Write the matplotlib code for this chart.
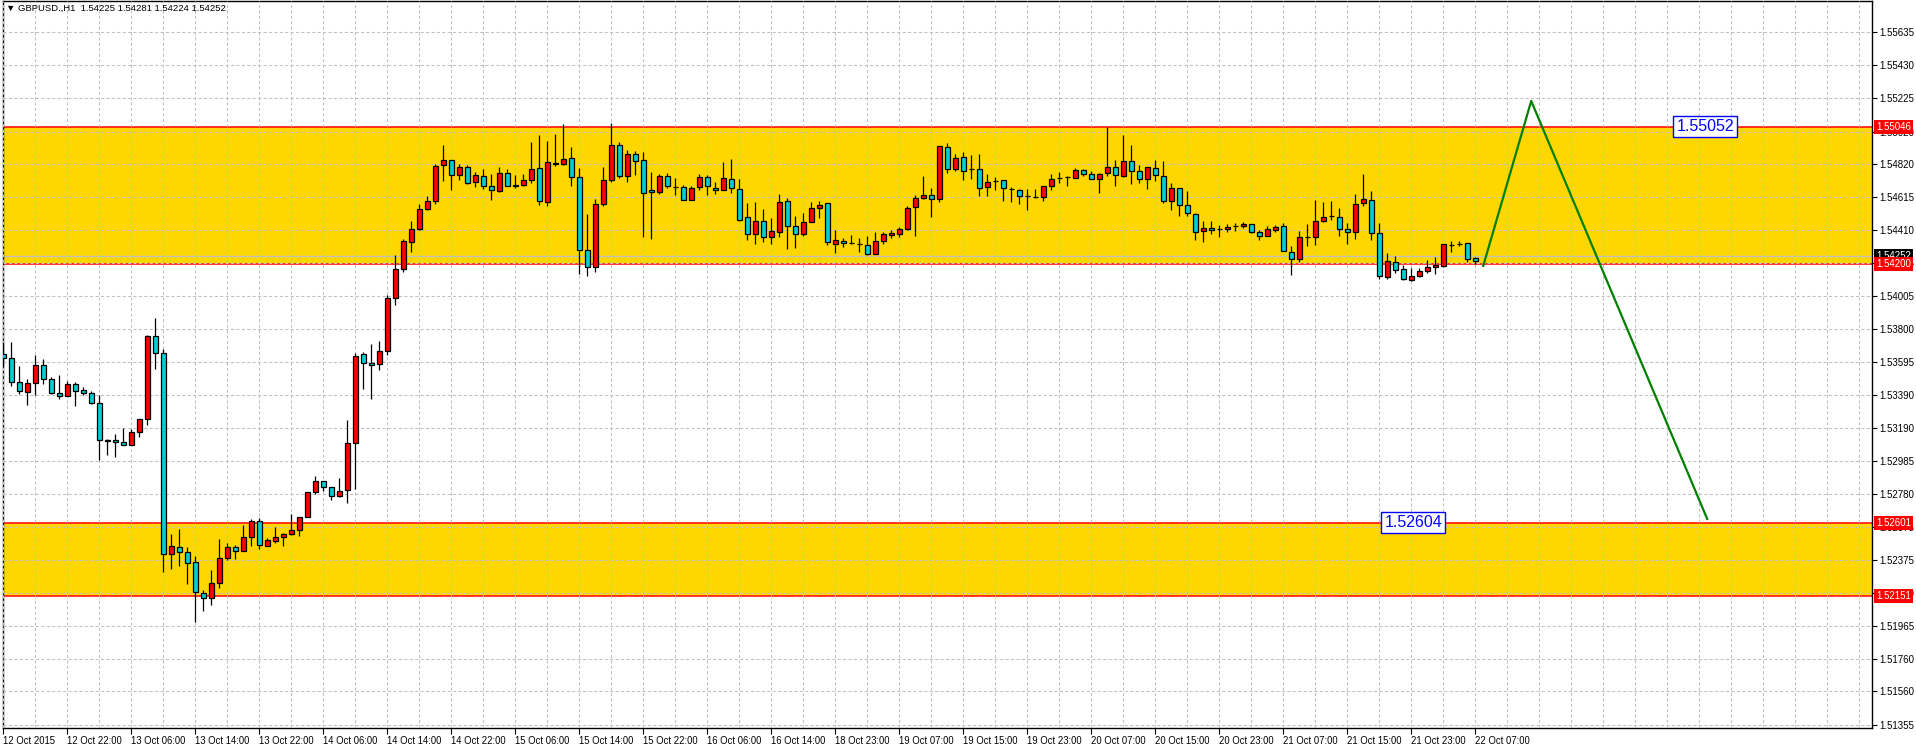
import matplotlib
matplotlib.use("Agg")
import matplotlib.pyplot as plt
import matplotlib.transforms as mtransforms
from matplotlib.ticker import MultipleLocator
from matplotlib import font_manager

# ---------------- data (GBPUSD H1) ----------------
opens = [1.53645,1.53621,1.53472,1.53410,1.53466,1.53577,1.53491,1.53404,1.53386,1.53460,
         1.53425,1.53404,1.53342,1.53112,1.53114,1.53101,1.53081,1.53163,1.53244,1.53759,
         1.53651,1.52409,1.52452,1.52422,1.52360,1.52168,1.52137,1.52230,1.52385,1.52452,
         1.52426,1.52514,1.52613,1.52457,1.52488,1.52512,1.52531,1.52558,1.52636,1.52792,
         1.52860,1.52823,1.52768,1.52805,1.53095,1.53645,1.53592,1.53583,1.53664,1.53990,
         1.54170,1.54338,1.54418,1.54544,1.54593,1.54814,1.54847,1.54754,1.54804,1.54711,
         1.54748,1.54686,1.54653,1.54766,1.54688,1.54692,1.54723,1.54797,1.54587,1.54824,
         1.54820,1.54859,1.54742,1.54291,1.54180,1.54575,1.54723,1.54940,1.54748,1.54884,
         1.54847,1.54661,1.54649,1.54748,1.54678,1.54680,1.54600,1.54680,1.54742,1.54674,
         1.54661,1.54729,1.54668,1.54495,1.54390,1.54470,1.54371,1.54402,1.54593,1.54439,
         1.54390,1.54464,1.54550,1.54581,1.54328,1.54346,1.54332,1.54326,1.54322,1.54266,
         1.54346,1.54383,1.54390,1.54420,1.54556,1.54612,1.54631,1.54606,1.54927,1.54791,
         1.54865,1.54789,1.54791,1.54680,1.54713,1.54723,1.54666,1.54661,1.54624,1.54616,
         1.54618,1.54686,1.54731,1.54738,1.54736,1.54785,1.54760,1.54729,1.54766,1.54804,
         1.54748,1.54841,1.54779,1.54729,1.54797,1.54748,1.54593,1.54674,1.54569,1.54513,
         1.54408,1.54427,1.54420,1.54420,1.54437,1.54439,1.54451,1.54402,1.54377,1.54414,
         1.54439,1.54278,1.54235,1.54371,1.54371,1.54470,1.54497,1.54495,1.54420,1.54402,
         1.54581,1.54600,1.54396,1.54124,1.54216,1.54173,1.54105,1.54130,1.54161,1.54186,
         1.54192,1.54319,1.54324,1.54334,1.54241]
highs = [1.53719,1.53719,1.53573,1.53493,1.53641,1.53614,1.53503,1.53518,1.53480,1.53472,
         1.53441,1.53419,1.53390,1.53120,1.53151,1.53190,1.53184,1.53246,1.53765,1.53870,
         1.53676,1.52535,1.52566,1.52455,1.52395,1.52189,1.52312,1.52504,1.52477,1.52463,
         1.52591,1.52628,1.52632,1.52506,1.52576,1.52539,1.52659,1.52638,1.52792,1.52893,
         1.52862,1.52823,1.52881,1.53239,1.53654,1.53656,1.53709,1.53728,1.54010,1.54257,
         1.54359,1.54466,1.54571,1.54620,1.54822,1.54935,1.54847,1.54822,1.54816,1.54769,
         1.54791,1.54756,1.54799,1.54791,1.54750,1.54760,1.54954,1.54997,1.54960,1.55003,
         1.55065,1.54923,1.54793,1.54509,1.54606,1.54799,1.55075,1.54954,1.54909,1.54898,
         1.54892,1.54769,1.54760,1.54766,1.54736,1.54692,1.54682,1.54760,1.54754,1.54711,
         1.54830,1.54849,1.54729,1.54577,1.54583,1.54544,1.54488,1.54637,1.54612,1.54497,
         1.54519,1.54583,1.54593,1.54581,1.54414,1.54365,1.54383,1.54365,1.54377,1.54402,
         1.54400,1.54414,1.54433,1.54563,1.54631,1.54748,1.54674,1.54933,1.54952,1.54884,
         1.54892,1.54878,1.54884,1.54760,1.54742,1.54723,1.54680,1.54668,1.54668,1.54668,
         1.54686,1.54760,1.54773,1.54748,1.54795,1.54791,1.54779,1.54766,1.55051,1.54847,
         1.54997,1.54935,1.54816,1.54804,1.54847,1.54841,1.54705,1.54674,1.54655,1.54519,
         1.54470,1.54470,1.54445,1.54451,1.54458,1.54464,1.54451,1.54414,1.54439,1.54445,
         1.54458,1.54315,1.54408,1.54451,1.54600,1.54587,1.54593,1.54550,1.54458,1.54637,
         1.54760,1.54655,1.54458,1.54272,1.54254,1.54198,1.54179,1.54179,1.54229,1.54247,
         1.54328,1.54346,1.54346,1.54334,1.54247]
lows = [1.53569,1.53445,1.53396,1.53328,1.53390,1.53458,1.53398,1.53365,1.53386,1.53322,
        1.53390,1.53334,1.52992,1.53019,1.53007,1.53081,1.53081,1.53130,1.53204,1.53551,
        1.52296,1.52314,1.52333,1.52222,1.51987,1.52059,1.52094,1.52199,1.52370,1.52376,
        1.52426,1.52461,1.52438,1.52457,1.52475,1.52461,1.52525,1.52518,1.52636,1.52780,
        1.52797,1.52741,1.52759,1.52722,1.52813,1.53431,1.53365,1.53544,1.53640,1.53950,
        1.54150,1.54276,1.54410,1.54534,1.54573,1.54715,1.54657,1.54721,1.54696,1.54676,
        1.54666,1.54598,1.54647,1.54686,1.54672,1.54682,1.54703,1.54567,1.54560,1.54808,
        1.54812,1.54684,1.54140,1.54130,1.54150,1.54560,1.54709,1.54734,1.54709,1.54750,
        1.54369,1.54357,1.54635,1.54672,1.54628,1.54600,1.54600,1.54659,1.54628,1.54635,
        1.54659,1.54641,1.54468,1.54350,1.54326,1.54338,1.54326,1.54369,1.54295,1.54301,
        1.54377,1.54464,1.54486,1.54319,1.54270,1.54307,1.54326,1.54276,1.54260,1.54266,
        1.54328,1.54363,1.54369,1.54414,1.54375,1.54604,1.54493,1.54585,1.54764,1.54777,
        1.54721,1.54727,1.54622,1.54622,1.54659,1.54591,1.54585,1.54573,1.54536,1.54612,
        1.54591,1.54661,1.54705,1.54684,1.54736,1.54746,1.54729,1.54641,1.54748,1.54686,
        1.54742,1.54698,1.54705,1.54668,1.54717,1.54581,1.54536,1.54499,1.54499,1.54350,
        1.54338,1.54390,1.54369,1.54402,1.54408,1.54427,1.54396,1.54352,1.54377,1.54402,
        1.54284,1.54134,1.54216,1.54315,1.54319,1.54462,1.54476,1.54377,1.54328,1.54359,
        1.54563,1.54350,1.54111,1.54111,1.54148,1.54105,1.54099,1.54122,1.54148,1.54140,
        1.54186,1.54278,1.54315,1.54216,1.54204]
closes = [1.53621,1.53472,1.53417,1.53466,1.53577,1.53491,1.53404,1.53386,1.53460,1.53417,
          1.53404,1.53342,1.53114,1.53110,1.53101,1.53083,1.53163,1.53246,1.53759,1.53651,
          1.52409,1.52459,1.52422,1.52354,1.52174,1.52137,1.52230,1.52385,1.52452,1.52426,
          1.52514,1.52613,1.52465,1.52496,1.52514,1.52533,1.52558,1.52638,1.52792,1.52860,
          1.52823,1.52768,1.52799,1.53095,1.53633,1.53590,1.53577,1.53664,1.53990,1.54170,
          1.54342,1.54420,1.54544,1.54593,1.54810,1.54847,1.54754,1.54804,1.54705,1.54754,
          1.54686,1.54661,1.54766,1.54686,1.54686,1.54723,1.54791,1.54593,1.54834,1.54822,
          1.54853,1.54742,1.54289,1.54180,1.54575,1.54723,1.54940,1.54748,1.54884,1.54841,
          1.54643,1.54649,1.54748,1.54686,1.54676,1.54600,1.54672,1.54742,1.54686,1.54661,
          1.54736,1.54674,1.54476,1.54390,1.54470,1.54371,1.54408,1.54587,1.54439,1.54390,
          1.54464,1.54550,1.54569,1.54340,1.54352,1.54334,1.54330,1.54324,1.54266,1.54346,
          1.54390,1.54392,1.54420,1.54550,1.54612,1.54631,1.54606,1.54933,1.54791,1.54859,
          1.54779,1.54787,1.54674,1.54711,1.54715,1.54674,1.54663,1.54624,1.54622,1.54614,
          1.54686,1.54729,1.54736,1.54740,1.54785,1.54760,1.54729,1.54760,1.54804,1.54754,
          1.54841,1.54779,1.54729,1.54804,1.54754,1.54593,1.54674,1.54569,1.54519,1.54402,
          1.54427,1.54414,1.54418,1.54433,1.54435,1.54451,1.54402,1.54377,1.54420,1.54433,
          1.54284,1.54235,1.54371,1.54369,1.54470,1.54495,1.54499,1.54420,1.54402,1.54575,
          1.54606,1.54396,1.54130,1.54223,1.54167,1.54111,1.54130,1.54161,1.54186,1.54196,
          1.54328,1.54317,1.54326,1.54235,1.54223]

time_labels = ["12 Oct 2015", "12 Oct 22:00", "13 Oct 06:00", "13 Oct 14:00", "13 Oct 22:00",
               "14 Oct 06:00", "14 Oct 14:00", "14 Oct 22:00", "15 Oct 06:00", "15 Oct 14:00",
               "15 Oct 22:00", "16 Oct 06:00", "16 Oct 14:00", "18 Oct 23:00", "19 Oct 07:00",
               "19 Oct 15:00", "19 Oct 23:00", "20 Oct 07:00", "20 Oct 15:00", "20 Oct 23:00",
               "21 Oct 07:00", "21 Oct 15:00", "21 Oct 23:00", "22 Oct 07:00"]
time_label_bars = list(range(0, 185, 8))

price_ticks = [1.55635, 1.55430, 1.55225, 1.55020, 1.54820, 1.54615, 1.54410, 1.54205,
               1.54005, 1.53800, 1.53595, 1.53390, 1.53190, 1.52985, 1.52780, 1.52575,
               1.52375, 1.52170, 1.51965, 1.51760, 1.51560, 1.51355]
price_tick_labels = ["%.5f" % v for v in price_ticks]

upper_zone = (1.54200, 1.55046)
lower_zone = (1.52151, 1.52601)
bid_price = 1.54252

# projected path (bar index, price)
path_bars = [185.0, 191.0, 213.0]
path_prices = [1.54190, 1.55209, 1.52626]

# text objects (bar index, price, text)
note_upper = (212.75, 1.55052, "1.55052")
note_lower = (176.25, 1.52604, "1.52604")

title = "\u25BC GBPUSD.,H1  1.54225 1.54281 1.54224 1.54252"

# ---------------- fonts ----------------
installed = {f.name for f in font_manager.fontManager.ttflist}
if "Liberation Sans Narrow" in installed:
    narrow, narrow_size = "Liberation Sans Narrow", 8.2
else:
    narrow, narrow_size = "Liberation Sans", 6.85
ui_font = ["Liberation Sans", "DejaVu Sans"]

# ---------------- figure ----------------
W, H = 1916, 746
fig = plt.figure(figsize=(W / 100, H / 100), dpi=100)
fig.patch.set_facecolor("white")
ax = fig.add_axes([3 / W, 18 / H, 1869 / W, 727 / H])
ax.set_facecolor("white")
ax.set_xlim(-0.04, 233.6)
ax.set_ylim(1.51334, 1.55827)

# zones
for lo, hi in (upper_zone, lower_zone):
    ax.axhspan(lo, hi, color="#FFD700", zorder=0, lw=0)
    ax.axhline(lo, color="#FF0000", lw=1.1, zorder=2)
    ax.axhline(hi, color="#FF0000", lw=1.1, zorder=2)

# ticks / grid
ax.set_yticks(price_ticks)
ax.set_yticklabels(price_tick_labels, fontfamily=ui_font, fontsize=7)
ax.set_xticks(time_label_bars)
ax.set_xticklabels(time_labels, ha="left", fontfamily=[narrow, "DejaVu Sans"],
                   fontsize=narrow_size)
ax.xaxis.set_minor_locator(MultipleLocator(4))
ax.grid(True, which="both", axis="x", color="#c0c0c0", lw=0.75, ls=(0, (3, 2.2)), zorder=1)
ax.grid(True, which="major", axis="y", color="#c0c0c0", lw=0.75, ls=(0, (3, 2.2)), zorder=1)
ax.set_axisbelow(False)

# bid line
ax.axhline(bid_price, color="#C0C0C0", lw=1.0, zorder=2)

# candles
xs = list(range(len(opens)))
ax.vlines(xs, lows, highs, color="black", lw=0.9, zorder=3)
bottoms = [min(o, c) for o, c in zip(opens, closes)]
heights = [max(abs(c - o), 1e-7) for o, c in zip(opens, closes)]
colors = ["#FF0000" if c > o else "#00CED1" for o, c in zip(opens, closes)]
ax.bar(xs, heights, bottom=bottoms, width=0.62, color=colors, edgecolor="black",
       linewidth=0.9, zorder=4)

# projected path
ax.plot(path_bars, path_prices, color="#008000", lw=1.6, zorder=5)

# text objects
for bx, py, s in (note_upper, note_lower):
    ax.text(bx, py, s, ha="center", va="center", fontsize=11.5, color="#0000FF", zorder=6,
            fontfamily=ui_font,
            bbox=dict(boxstyle="square,pad=0.2", fc="white", ec="#0000FF", lw=1.0))

# axes styling
for side in ("left", "bottom", "right", "top"):
    ax.spines[side].set_color("black")
    ax.spines[side].set_linewidth(1.0)
ax.yaxis.tick_right()
ax.tick_params(axis="y", which="major", direction="out", length=3.5, width=0.8,
               pad=2, colors="black")
ax.tick_params(axis="x", which="major", direction="out", length=4, width=0.8,
               pad=1.5, colors="black")
ax.tick_params(axis="x", which="minor", length=0)
ax.tick_params(axis="y", which="both", left=False)

# right-axis price labels
trans = mtransforms.blended_transform_factory(ax.transAxes, ax.transData)
off = mtransforms.ScaledTranslation(4 / 100, 0, fig.dpi_scale_trans)
for p in (upper_zone[1], upper_zone[0], lower_zone[1], lower_zone[0]):
    ax.text(1.0, p, "%.5f" % p, transform=trans + off, ha="left", va="center",
            fontsize=7, fontfamily=ui_font, color="white", clip_on=False, zorder=7,
            bbox=dict(boxstyle="square,pad=0.2", fc="#FF0000", ec="none"))
ax.text(1.0, bid_price, "%.5f" % bid_price, transform=trans + off, ha="left", va="center",
        fontsize=7, fontfamily=ui_font, color="white", clip_on=False, zorder=6,
        bbox=dict(boxstyle="square,pad=0.2", fc="black", ec="none"))

fig.text(6 / W, 1 - 8 / H, title, fontsize=6.8, fontfamily=ui_font, va="center", ha="left",
         color="black")

fig.savefig("out.png", dpi=100, facecolor="white")
